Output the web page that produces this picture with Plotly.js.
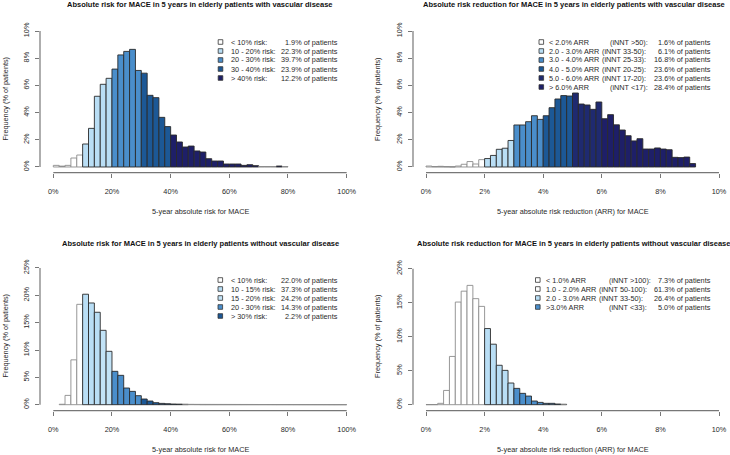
<!DOCTYPE html>
<html>
<head>
<meta charset="utf-8">
<script src="https://cdn.plot.ly/plotly-3.0.1.min.js"></script>
<style>html,body{margin:0;padding:0;background:#fff;}#chart{width:730px;height:455px;}</style>
</head>
<body>
<div id="chart"></div>
<script>
// ---------- DATA ----------
// Panel 1: absolute risk, with vascular disease (2% bins, bin start in %)
const p1BinStart = [0,2,4,6,8,10,12,14,16,18,20,22,24,26,28,30,32,34,36,38,40,42,44,46,48,50,52,54,56,58,60,62,64,66,68,70,72,74,76,78];
const p1Freq = [0.12,0.05,0.12,0.66,0.88,1.69,2.84,5.2,6.08,6.52,7.2,8.24,8.5,8.65,7.1,6.9,5.27,5.1,3.65,2.97,2.35,1.84,1.47,1.54,1.18,1.1,0.61,0.44,0.44,0.22,0.22,0.22,0.12,0.17,0.1,0.03,0.03,0.03,0.07,0.03];
const p1Cuts = [10,20,30,40];
const p1Labels = ["&lt; 10% risk:","10 - 20% risk:","20 - 30% risk:","30 - 40% risk:","&gt; 40% risk:"];
const p1Pct = ["1.9% of patients","22.3% of patients","39.7% of patients","23.9% of patients","12.2% of patients"];

// Panel 2: absolute risk reduction, with vascular disease (0.2% bins)
const p2BinStart = [0,0.2,0.4,0.6,0.8,1.0,1.2,1.4,1.6,1.8,2.0,2.2,2.4,2.6,2.8,3.0,3.2,3.4,3.6,3.8,4.0,4.2,4.4,4.6,4.8,5.0,5.2,5.4,5.6,5.8,6.0,6.2,6.4,6.6,6.8,7.0,7.2,7.4,7.6,7.8,8.0,8.2,8.4,8.6,8.8,9.0];
const p2Freq = [0.07,0.03,0.05,0.03,0.01,0.07,0.2,0.4,0.22,0.54,0.62,0.85,1.3,1.38,1.95,3.09,3.09,3.33,3.77,3.5,3.77,4.36,5.0,5.25,5.22,5.44,4.63,4.56,4.24,4.78,3.55,3.85,3.1,2.72,2.3,1.92,2.08,1.32,1.32,1.4,1.32,1.27,0.71,0.69,0.73,0.25];
const p2Cuts = [2,3,4,5,6];
const p2Labels = ["&lt; 2.0% ARR","2.0 - 3.0% ARR","3.0 - 4.0% ARR","4.0 - 5.0% ARR","5.0 - 6.0% ARR","&gt; 6.0% ARR"];
const p2Innt = ["(iNNT &gt;50):","(iNNT 33-50):","(iNNT 25-33):","(iNNT 20-25):","(iNNT 17-20):","(iNNT &lt;17):"];
const p2Pct = ["1.6% of patients","6.1% of patients","16.8% of patients","23.6% of patients","23.6% of patients","28.4% of patients"];

// Panel 3: absolute risk, without vascular disease (2% bins)
const p3BinStart = [2,4,6,8,10,12,14,16,18,20,22,24,26,28,30,32,34,36,38,40,42,44,46,48,50,52,54,56,58,60,62,64,66,68,70,72,74,76,78,80,82,84,86,88,90,92,94,96,98];
const p3Freq = [0.08,1.7,8.2,18.35,20.2,18.6,16.9,13.6,9.76,6.1,5.37,3.05,2.44,1.65,1.04,0.67,0.37,0.24,0.18,0.12,0.1,0.06,0.04,0.03,0.01,0.01,0.01,0.01,0.01,0.01,0.01,0.01,0.01,0.01,0.01,0.01,0.01,0.01,0.01,0.01,0.01,0.01,0.01,0.01,0.01,0.01,0.01,0.01,0.01];
const p3Cuts = [10,15,20,30];
const p3Labels = ["&lt; 10% risk:","10 - 15% risk:","15 - 20% risk:","20 - 30% risk:","&gt; 30% risk:"];
const p3Pct = ["22.0% of patients","37.3% of patients","24.2% of patients","14.3% of patients","2.2% of patients"];

// Panel 4: absolute risk reduction, without vascular disease (0.2% bins)
const p4BinStart = [0,0.2,0.4,0.6,0.8,1.0,1.2,1.4,1.6,1.8,2.0,2.2,2.4,2.6,2.8,3.0,3.2,3.4,3.6,3.8,4.0,4.2,4.4,4.6];
const p4Freq = [0.02,0.02,0.2,2.1,7.1,15.1,16.7,17.55,15.6,14.46,11.2,8.9,5.8,5.05,3.19,2.4,1.67,1.27,0.54,0.34,0.2,0.2,0.1,0.05];
const p4Cuts = [1,2,3];
const p4Labels = ["&lt; 1.0% ARR","1.0 - 2.0% ARR","2.0 - 3.0% ARR","&gt;3.0% ARR"];
const p4Innt = ["(iNNT &gt;100):","(iNNT 50-100):","(iNNT 33-50):","(iNNT &lt;33):"];
const p4Pct = ["7.3% of patients","61.3% of patients","26.4% of patients","5.0% of patients"];

const titles = [
  "Absolute risk for MACE in 5 years in elderly patients with vascular disease",
  "Absolute risk reduction for MACE in 5 years in elderly patients with vascular disease",
  "Absolute risk for MACE in 5 years in elderly patients without vascular disease",
  "Absolute risk reduction for MACE in 5 years in elderly patients without vascular disease"
];
const xTitles = ["5-year absolute risk for MACE","5-year absolute risk reduction (ARR) for MACE","5-year absolute risk for MACE","5-year absolute risk reduction (ARR) for MACE"];
const yTitle = "Frequency (% of patients)";
const xTicksRisk = [0,20,40,60,80,100];
const xTicksArr = [0,2,4,6,8,10];
const yTicks1 = [0,2,4,6,8,10];
const yTicks3 = [0,5,10,15,20,25];
const yTicks4 = [0,5,10,15,20];

// ---------- STYLE ----------
const W = 730, H = 455;
const FONT = "Liberation Sans, Arial, Helvetica, sans-serif";
const WHITE = "#ffffff", LIGHT = "#b9def5", LIGHT2 = "#c2e3f7", MID = "#4a8ecb", DARK = "#1c5896", NAVY2 = "#1f2a70", NAVY = "#1e1f68";
const GREYLINE = "#8c8c8c", DARKLINE = "#2a2a2a";
const AXCOL = "#777777", TXT = "#2a2a2a";

const panels = [
  {bins:p1BinStart, freq:p1Freq, w:2, cuts:p1Cuts, colors:[WHITE,LIGHT,MID,DARK,NAVY], xa:'x', ya:'y'},
  {bins:p2BinStart, freq:p2Freq, w:0.2, cuts:p2Cuts, colors:[WHITE,LIGHT,MID,DARK,NAVY2,NAVY], xa:'x2', ya:'y2'},
  {bins:p3BinStart, freq:p3Freq, w:2, cuts:p3Cuts, colors:[WHITE,LIGHT,LIGHT2,MID,DARK], xa:'x3', ya:'y3'},
  {bins:p4BinStart, freq:p4Freq, w:0.2, cuts:p4Cuts, colors:[WHITE,WHITE,LIGHT,MID], xa:'x4', ya:'y4'}
];

const traces = [];
panels.forEach(p => {
  p.colors.forEach((c, g) => {
    const xs = [], ys = [], lc = [];
    p.bins.forEach((b, i) => {
      let grp = 0;
      p.cuts.forEach(ct => { if (b >= ct - 1e-9) grp++; });
      if (grp === g) {
        xs.push(b + p.w / 2); ys.push(p.freq[i]);
        lc.push(c === WHITE || p.freq[i] < 0.05 ? GREYLINE : DARKLINE);
      }
    });
    if (xs.length) traces.push({
      type:'bar', x:xs, y:ys, width:p.w, xaxis:p.xa, yaxis:p.ya,
      marker:{color:c, line:{color:lc, width:0.9}}, showlegend:false, hoverinfo:'skip'
    });
  });
  // outline of the near-zero tail bins (too thin to be drawn as bars)
  const tx = [], ty = [];
  p.bins.forEach((b, i) => {
    if (p.freq[i] <= 0.06) { tx.push(b, b + p.w); ty.push(p.freq[i], p.freq[i]); }
    else { tx.push(null); ty.push(null); }
  });
  traces.push({type:'scatter', mode:'lines', x:tx, y:ty, xaxis:p.xa, yaxis:p.ya, connectgaps:false,
    line:{color:GREYLINE, width:1}, showlegend:false, hoverinfo:'skip'});
});

function pxX(a, b) { return [a / W, b / W]; }
function pxY(top, bottom) { return [1 - bottom / H, 1 - top / H]; }
function mkX(dom, range, ticks, anchor) {
  return {domain:dom, range:range, anchor:anchor, tickvals:ticks, ticktext:ticks.map(t => t + '%'),
    showline:false, showgrid:false, zeroline:false, ticks:'outside', ticklen:4, tickwidth:1, tickcolor:AXCOL,
    ticklabelstandoff:8, tickfont:{family:FONT, size:7.3, color:TXT}, fixedrange:true};
}
function mkY(dom, range, ticks, anchor) {
  return {domain:dom, range:range, anchor:anchor, tickvals:ticks, ticktext:ticks.map(t => t + '%'),
    showline:false, showgrid:false, zeroline:false, ticks:'outside', ticklen:4, tickwidth:1, tickcolor:AXCOL,
    tickangle:-90, ticklabelstandoff:3, tickfont:{family:FONT, size:7.3, color:TXT}, fixedrange:true};
}

const layout = {
  width:W, height:H, margin:{l:0, r:0, t:0, b:0}, paper_bgcolor:'#fff', plot_bgcolor:'rgba(0,0,0,0)',
  bargap:0, barmode:'overlay', hovermode:false, showlegend:false,
  xaxis:  mkX(pxX(40, 358.4), [-4.533, 104.0], xTicksRisk, 'y'),
  yaxis:  mkY(pxY(25.56, 172.7), [-0.42, 10.4], yTicks1, 'x'),
  xaxis2: mkX(pxX(413, 730), [-0.4437, 10.375], xTicksArr, 'y2'),
  yaxis2: mkY(pxY(25.56, 172.7), [-0.42, 10.4], yTicks1, 'x2'),
  xaxis3: mkX(pxX(40, 358.4), [-4.533, 104.0], xTicksRisk, 'y3'),
  yaxis3: mkY(pxY(262.5, 410.7), [-1.097, 26], yTicks3, 'x3'),
  xaxis4: mkX(pxX(413, 730), [-0.4437, 10.375], xTicksArr, 'y4'),
  yaxis4: mkY(pxY(263.3, 410.7), [-0.882, 20.8], yTicks4, 'x4'),
  shapes:[], annotations:[]
};

// R-style detached axis lines spanning first to last tick
const axisSets = [
  {xa:'x', ya:'y', xt:xTicksRisk, yt:yTicks1},
  {xa:'x2', ya:'y2', xt:xTicksArr, yt:yTicks1},
  {xa:'x3', ya:'y3', xt:xTicksRisk, yt:yTicks3},
  {xa:'x4', ya:'y4', xt:xTicksArr, yt:yTicks4}
];
axisSets.forEach(a => {
  layout.shapes.push({type:'line', xref:a.xa, yref:a.ya + ' domain', x0:a.xt[0], x1:a.xt[a.xt.length-1], y0:0, y1:0, line:{color:AXCOL, width:1.2}});
  layout.shapes.push({type:'line', xref:a.xa + ' domain', yref:a.ya, x0:0, x1:0, y0:a.yt[0], y1:a.yt[a.yt.length-1], line:{color:AXCOL, width:1.2}});
});

function ann(px, py, text, o) {
  o = o || {};
  return Object.assign({xref:'paper', yref:'paper', x:px / W, y:1 - py / H, text:text, showarrow:false,
    xanchor:'center', yanchor:'middle', borderpad:0,
    font:{family:FONT, size:7.3, color:TXT}}, o);
}

// Titles
const titlePos = [[200, 4.3], [573.5, 4.3], [200, 243], [573, 243]];
titles.forEach((t, i) => layout.annotations.push(ann(titlePos[i][0], titlePos[i][1], t,
  {font:{family:FONT, size:7.5, color:'#111', weight:'bold'}})));
const xtPos = [[200.5, 211.7], [573, 211.7], [200, 449.7], [573, 449.7]];
xTitles.forEach((t, i) => layout.annotations.push(ann(xtPos[i][0], xtPos[i][1], t)));
const ytPos = [[4.5, 99], [377, 99], [4.5, 336], [377, 336]];
ytPos.forEach(p => layout.annotations.push(ann(p[0], p[1], yTitle, {textangle:-90})));

// Legends
function legend(sqX, rows, colors, labels, labelX, innt, inntX, pct, pctX) {
  rows.forEach((ry, i) => {
    const s = 2.3;
    layout.shapes.push({type:'rect', xref:'paper', yref:'paper', x0:(sqX - s) / W, x1:(sqX + s) / W,
      y0:1 - (ry + s) / H, y1:1 - (ry - s) / H, fillcolor:colors[i], line:{color:'#333', width:0.8}});
    layout.annotations.push(ann(labelX, ry, labels[i], {xanchor:'left'}));
    if (innt) layout.annotations.push(ann(inntX[i], ry, innt[i], {xanchor:'left'}));
    layout.annotations.push(ann(pctX, ry, pct[i], {xanchor:'right'}));
  });
}
legend(220.5, [42,51,60,69,78], [WHITE,LIGHT,MID,DARK,NAVY], p1Labels, 229.5, null, null, p1Pct, 339);
legend(541.3, [42,51,60,69,78,87], [WHITE,LIGHT,MID,DARK,NAVY2,NAVY], p2Labels, 547.5, p2Innt, [609,600.5,600.5,600.5,600.5,609], p2Pct, 712);
legend(220.3, [280,289,298,307,316], [WHITE,LIGHT,LIGHT2,MID,DARK], p3Labels, 229.5, null, null, p3Pct, 339);
legend(537.8, [280,289,298,307], [WHITE,WHITE,LIGHT,MID], p4Labels, 545, p4Innt, [607.5,598,598,607.5], p4Pct, 712);

Plotly.newPlot('chart', traces, layout, {staticPlot:true, displayModeBar:false});
</script>
</body>
</html>
